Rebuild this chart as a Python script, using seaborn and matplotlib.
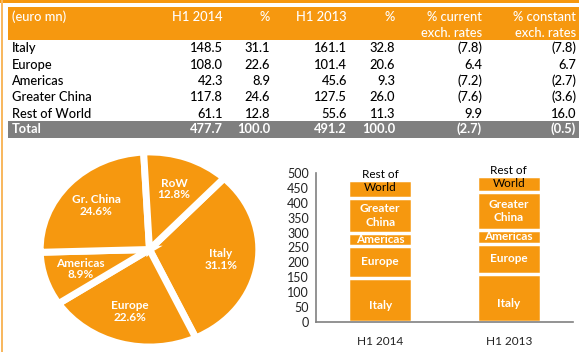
import numpy as np
import pandas as pd
import seaborn as sns
import matplotlib.pyplot as plt
from matplotlib.patches import Rectangle

# table data
regions = ['Italy', 'Europe', 'Americas', 'Greater China', 'Rest of World']
h1_2014 = [148.5, 108.0, 42.3, 117.8, 61.1]
pct_2014 = [31.1, 22.6, 8.9, 24.6, 12.8]
h1_2013 = [161.1, 101.4, 45.6, 127.5, 55.6]
pct_2013 = [32.8, 20.6, 9.3, 26.0, 11.3]
chg_current = ['(7.8)', '6.4', '(7.2)', '(7.6)', '9.9']
chg_constant = ['(7.8)', '6.7', '(2.7)', '(3.6)', '16.0']
total_row = ['Total', '477.7', '100.0', '491.2', '100.0', '(2.7)', '(0.5)']
header_1 = ['(euro mn)', 'H1 2014', '%', 'H1 2013', '%', '% current', '% constant']
header_2 = ['', '', '', '', '', 'exch. rates', 'exch. rates']

# pie data
pie_labels = ['Italy', 'Europe', 'Americas', 'Gr. China', 'RoW']
pie_pct = [31.1, 22.6, 8.9, 24.6, 12.8]

# stacked bar data
periods = ['H1 2014', 'H1 2013']
bar_labels = ['Italy', 'Europe', 'Americas', 'Greater\nChina', 'Rest of\nWorld']

ORANGE = '#F6980F'
GREY = '#7F7F7F'

sns.set_theme(style='white')
plt.rcParams['font.family'] = ['Lato', 'DejaVu Sans']

fig = plt.figure(figsize=(5.79, 3.52), dpi=100)

# ---- table (pixel coordinates)
tab = fig.add_axes([0, 0, 1, 1])
tab.set_xlim(0, 579)
tab.set_ylim(352, 0)
tab.axis('off')

tab.add_patch(Rectangle((0, 0), 579, 3, color=ORANGE, lw=0))
tab.add_patch(Rectangle((0.5, 0), 2, 352, color='#F8B860', lw=0))
tab.add_patch(Rectangle((8, 7), 571, 33, color=ORANGE, lw=0))
tab.add_patch(Rectangle((8, 120.5), 571, 17, color=GREY, lw=0))

col_x = [12, 223, 270, 347, 395, 482, 576]
fs = 9.3
for i, (h1, h2) in enumerate(zip(header_1, header_2)):
    ha = 'left' if i == 0 else 'right'
    tab.text(col_x[i], 17, h1, ha=ha, va='center', color='white', fontsize=fs,
             fontweight='medium')
    if h2:
        tab.text(col_x[i], 33, h2, ha=ha, va='center', color='white', fontsize=fs,
                 fontweight='medium')

row_y = [48, 65, 81, 97, 114]
for j, r in enumerate(regions):
    vals = [r, f'{h1_2014[j]:.1f}', f'{pct_2014[j]:.1f}', f'{h1_2013[j]:.1f}',
            f'{pct_2013[j]:.1f}', chg_current[j], chg_constant[j]]
    for i, v in enumerate(vals):
        tab.text(col_x[i], row_y[j], v, ha='left' if i == 0 else 'right',
                 va='center', color='black', fontsize=fs, fontweight='medium')
for i, v in enumerate(total_row):
    tab.text(col_x[i], 129, v, ha='left' if i == 0 else 'right', va='center',
             color='white', fontsize=fs, fontweight='bold')

# ---- pie
pax = fig.add_axes([38 / 579, 3 / 352, 223 / 579, 199 / 352])
texts = pax.pie(pie_pct, labels=[f'{l}\n{p}%' for l, p in zip(pie_labels, pie_pct)],
                colors=[ORANGE] * 5, startangle=47, counterclock=False,
                labeldistance=0.66,
                wedgeprops=dict(edgecolor='white', linewidth=5),
                textprops=dict(color='white', fontsize=8.5, fontweight='bold'))[1]
for t in texts:
    t.set_ha('center')
    t.set_va('center')
    t.set_linespacing(1.1)
pax.set_aspect('auto')
pax.set_xlim(-1.02, 1.02)
pax.set_ylim(-1.02, 1.02)
pax.axis('off')

# ---- stacked bars
bax = fig.add_axes([316 / 579, 1 - 322 / 352, 257 / 579, 149 / 352])
stack = np.array([h1_2014, h1_2013]).T
tops = np.cumsum(stack, axis=0)
df = pd.DataFrame(tops.T, index=periods, columns=regions)
for k in range(len(regions) - 1, -1, -1):
    sns.barplot(x=df.index, y=df[regions[k]], ax=bax, color=ORANGE, width=0.5,
                edgecolor='white', linewidth=2.5, saturation=1)
for p in range(len(periods)):
    for k in range(len(regions)):
        mid = tops[k, p] - stack[k, p] / 2
        if k == len(regions) - 1:
            bax.text(p, tops[k, p] - 5, bar_labels[k], ha='center', va='center',
                     color='black', fontsize=8.5, linespacing=1.25)
        else:
            y = mid - 18 if k == 0 else mid
            bax.text(p, y, bar_labels[k], ha='center', va='center', color='white',
                     fontsize=8.5, fontweight='bold', linespacing=1.25)

bax.set_ylim(0, 500)
bax.set_xlim(-0.5, 1.5)
bax.set_yticks(range(0, 501, 50))
bax.set_xticks([-0.5, 0.5, 1.5])
bax.set_xticklabels([])
bax.set_xticks([0, 1], minor=True)
bax.set_xticklabels(periods, minor=True)
bax.tick_params(axis='x', which='minor', length=0, pad=10, labelsize=8.5, labelcolor='#222222')
bax.tick_params(axis='x', which='major', length=4, width=1, color='#808080', direction='out')
bax.tick_params(axis='y', length=3, width=1, color='#808080', direction='out',
                labelsize=9, labelcolor='#222222', pad=2)
bax.set_xlabel('')
bax.set_ylabel('')
for s in ['top', 'right']:
    bax.spines[s].set_visible(False)
for s in ['left', 'bottom']:
    bax.spines[s].set_color('#808080')
    bax.spines[s].set_linewidth(1.2)

fig.savefig('out.png', dpi=100)
